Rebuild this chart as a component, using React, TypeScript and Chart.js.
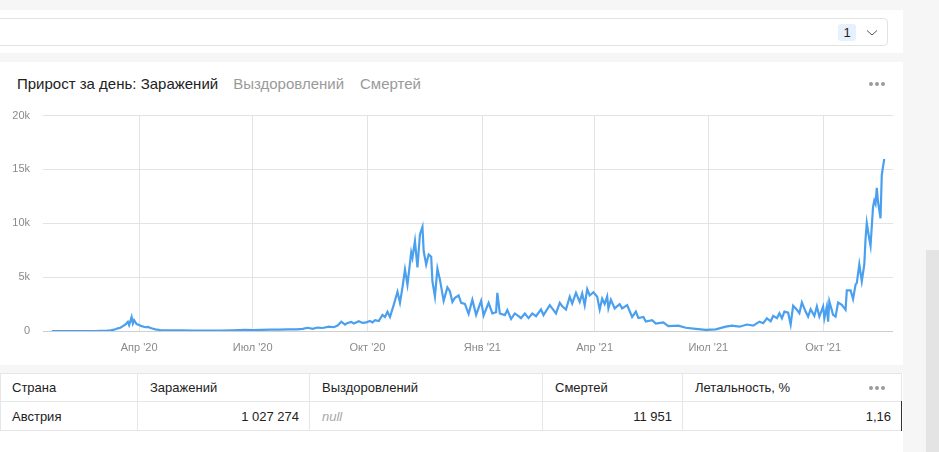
import React, { useEffect, useRef } from "react";
import { Chart, registerables } from "chart.js";

Chart.register(...registerables);

const dates: string[] = [
  "2020-01-22","2020-02-25","2020-03-01","2020-03-05","2020-03-09","2020-03-12","2020-03-15","2020-03-17","2020-03-19","2020-03-21",
  "2020-03-23","2020-03-24","2020-03-26","2020-03-27","2020-03-28","2020-03-30","2020-04-01","2020-04-03","2020-04-06","2020-04-08",
  "2020-04-11","2020-04-14","2020-04-18","2020-04-25","2020-05-05","2020-05-15","2020-05-25","2020-06-05","2020-06-15","2020-06-25",
  "2020-07-01","2020-07-08","2020-07-15","2020-07-22","2020-07-29","2020-08-05","2020-08-10","2020-08-14","2020-08-18","2020-08-22",
  "2020-08-26","2020-08-31","2020-09-04","2020-09-07","2020-09-10","2020-09-13","2020-09-15","2020-09-18","2020-09-20","2020-09-24",
  "2020-09-27","2020-09-30","2020-10-03","2020-10-05","2020-10-07","2020-10-10","2020-10-13","2020-10-15","2020-10-17","2020-10-19",
  "2020-10-22","2020-10-25","2020-10-27","2020-10-29","2020-10-31","2020-11-02","2020-11-05","2020-11-06","2020-11-08","2020-11-10",
  "2020-11-12","2020-11-14","2020-11-15","2020-11-17","2020-11-19","2020-11-21","2020-11-22","2020-11-24","2020-11-26","2020-11-28",
  "2020-12-01","2020-12-04","2020-12-06","2020-12-08","2020-12-10","2020-12-13","2020-12-15","2020-12-18","2020-12-21","2020-12-24",
  "2020-12-27","2020-12-31","2021-01-02","2021-01-06","2021-01-09","2021-01-12","2021-01-13","2021-01-15","2021-01-19","2021-01-21",
  "2021-01-24","2021-01-27","2021-01-30","2021-02-01","2021-02-04","2021-02-07","2021-02-10","2021-02-13","2021-02-17","2021-02-19",
  "2021-02-24","2021-03-01","2021-03-04","2021-03-06","2021-03-09","2021-03-12","2021-03-14","2021-03-17","2021-03-20","2021-03-22",
  "2021-03-24","2021-03-26","2021-03-28","2021-03-31","2021-04-03","2021-04-05","2021-04-07","2021-04-09","2021-04-11","2021-04-12",
  "2021-04-14","2021-04-17","2021-04-21","2021-04-23","2021-04-27","2021-05-01","2021-05-04","2021-05-06","2021-05-10","2021-05-12",
  "2021-05-17","2021-05-20","2021-05-26","2021-05-30","2021-06-07","2021-06-13","2021-06-21","2021-06-29","2021-07-07","2021-07-15",
  "2021-07-20","2021-07-26","2021-08-01","2021-08-06","2021-08-11","2021-08-14","2021-08-17","2021-08-20","2021-08-22","2021-08-25",
  "2021-08-27","2021-08-29","2021-08-31","2021-09-03","2021-09-05","2021-09-07","2021-09-10","2021-09-12","2021-09-14","2021-09-17",
  "2021-09-19","2021-09-21","2021-09-24","2021-09-26","2021-09-28","2021-10-01","2021-10-02","2021-10-04","2021-10-05","2021-10-06",
  "2021-10-09","2021-10-11","2021-10-13","2021-10-16","2021-10-19","2021-10-20","2021-10-23","2021-10-25","2021-10-27","2021-10-28",
  "2021-10-30","2021-10-31","2021-11-01","2021-11-03","2021-11-04","2021-11-05","2021-11-07","2021-11-08","2021-11-10","2021-11-11",
  "2021-11-12","2021-11-13","2021-11-14","2021-11-16","2021-11-17","2021-11-18","2021-11-19",
];

const cases: number[] = [
  0,2,5,15,60,120,250,300,450,600,
  850,550,1300,700,1000,650,550,450,350,380,
  250,150,90,70,50,40,40,40,60,100,
  90,110,120,130,150,150,200,300,200,320,
  280,400,350,500,860,600,750,850,700,900,
  750,800,930,800,1000,930,1500,1300,1780,1300,
  2430,3640,2620,4050,5700,4300,7300,6800,8350,5900,
  8970,9660,7400,6170,7100,6900,4600,3200,5800,4770,
  2800,4050,3700,2700,3080,3300,2620,2520,1590,2900,
  1500,2800,1450,2620,1630,1740,3540,1630,1480,1940,
  1110,1630,1390,1200,1630,1200,1630,1370,2000,1480,
  2400,1630,2620,2300,2000,3180,2560,3540,2700,3480,
  2400,3890,3300,3600,3180,2000,3000,2500,3200,2100,
  2900,2100,2500,2100,2400,1300,1800,1200,1300,880,
  1000,680,800,450,500,300,200,100,150,400,
  500,400,600,500,870,720,1180,900,1400,1190,
  1650,1190,1800,1700,600,2340,1970,1650,2650,1800,
  1340,2030,1400,2280,1340,2280,1190,2280,875,2750,
  1500,1340,2650,2440,1970,3780,3780,2970,4310,4470,
  6190,5400,4620,6190,8530,10030,8530,7900,11500,12100,
  11800,13300,12000,10470,14470,15250,15970,
];

const tickDates: string[] = ["2020-04-01","2020-07-01","2020-10-01","2021-01-01","2021-04-01","2021-07-01","2021-10-01"];
const tickLabels: string[] = ["Апр '20","Июл '20","Окт '20","Янв '21","Апр '21","Июл '21","Окт '21"];
const axisStart = "2020-01-15";
const axisEnd = "2021-11-26";

const tableHeaders: string[] = ["Страна", "Заражений", "Выздоровлений", "Смертей", "Летальность, %"];
const tableRow: string[] = ["Австрия", "1 027 274", "null", "11 951", "1,16"];

const dayNum = (s: string) => Date.parse(s + "T00:00:00Z") / 86400000;

const FONT = "'Liberation Sans', Arial, sans-serif";

function ChartBox() {
  const ref = useRef<HTMLCanvasElement | null>(null);
  useEffect(() => {
    if (!ref.current) return;
    const tickVals = tickDates.map(dayNum);
    const chart = new Chart(ref.current, {
      type: "line",
      data: {
        datasets: [
          {
            data: dates.map((d, i) => ({ x: dayNum(d), y: cases[i] })),
            borderColor: "#4aa0ee",
            borderWidth: 2.2,
            pointRadius: 0,
            tension: 0,
            fill: false,
          },
        ],
      },
      options: {
        animation: false,
        responsive: false,
        maintainAspectRatio: false,
        layout: { padding: { top: 10, right: 10, left: 0, bottom: 0 } },
        plugins: { legend: { display: false }, tooltip: { enabled: false } },
        scales: {
          x: {
            type: "linear",
            min: dayNum(axisStart),
            max: dayNum(axisEnd),
            afterBuildTicks: (scale: any) => {
              scale.ticks = tickVals.map((v) => ({ value: v }));
            },
            afterFit: (scale: any) => {
              scale.height = 29;
            },
            ticks: {
              autoSkip: false,
              maxRotation: 0,
              padding: 10,
              color: "#8a8a8a",
              font: { family: FONT, size: 11 },
              callback: (_v: any, i: number) => tickLabels[i],
            },
            grid: { color: "#e3e3e3", drawTicks: false, lineWidth: 1 },
            border: { display: false },
          },
          y: {
            min: 0,
            max: 20000,
            afterFit: (scale: any) => {
              scale.width = 43;
            },
            ticks: {
              stepSize: 5000,
              padding: 13,
              color: "#8a8a8a",
              font: { family: FONT, size: 11 },
              callback: (v: any) => (v === 0 ? "0" : v / 1000 + "k"),
            },
            grid: {
              drawTicks: false,
              color: (ctx: any) => (ctx.tick && ctx.tick.value === 0 ? "#cfcfcf" : "#e3e3e3"),
            },
            border: { display: false },
          },
        },
      },
    } as any);
    return () => chart.destroy();
  }, []);
  return (
    <canvas
      ref={ref}
      width={903}
      height={264}
      style={{ position: "absolute", left: 0, top: 96, width: 903, height: 264 }}
    />
  );
}

function Dots({ left, top }: { left: number; top: number }) {
  return (
    <div style={{ position: "absolute", left, top, display: "flex", gap: 2 }}>
      {[0, 1, 2].map((i) => (
        <div key={i} style={{ width: 4, height: 4, borderRadius: 2, background: "#9a9a9a" }} />
      ))}
    </div>
  );
}

export default function App() {
  const colX = [0, 138, 310, 543, 683, 901];
  const cell = (i: number, top: number, h: number, text: string, header: boolean) => {
    const right = i === 1 || i === 3 || i === 4;
    const isNull = !header && text === "null";
    return (
      <div
        key={(header ? "h" : "r") + i}
        style={{
          position: "absolute",
          left: colX[i],
          top,
          width: colX[i + 1] - colX[i],
          height: h,
          boxSizing: "border-box",
          borderRight: i < 4 ? "1px solid #e6e6e6" : "none",
          padding: "0 10px 0 12px",
          display: "flex",
          alignItems: "center",
          justifyContent: !header && right ? "flex-end" : "flex-start",
          fontFamily: FONT,
          fontSize: 13,
          color: isNull ? "#a8a8a8" : "#222",
          fontStyle: isNull ? "italic" : "normal",
          fontWeight: header ? 500 : 400,
        }}
      >
        {text}
      </div>
    );
  };
  return (
    <div
      style={{
        position: "fixed",
        left: 0,
        top: 0,
        width: 939,
        height: 452,
        background: "#f6f6f6",
        overflow: "hidden",
        fontFamily: FONT,
      }}
    >
      {/* top filter card */}
      <div style={{ position: "absolute", left: 0, top: 10, width: 903, height: 43, background: "#fff" }} />
      <div
        style={{
          position: "absolute",
          left: -6,
          top: 18,
          width: 894,
          height: 28,
          boxSizing: "border-box",
          border: "1px solid #e2e2e2",
          borderRadius: 4,
          background: "#fff",
        }}
      />
      <div
        style={{
          position: "absolute",
          left: 838,
          top: 24,
          width: 18,
          height: 17,
          background: "#e6f1fc",
          borderRadius: 3,
          fontSize: 13,
          color: "#222",
          display: "flex",
          alignItems: "center",
          justifyContent: "center",
        }}
      >
        1
      </div>
      <svg style={{ position: "absolute", left: 866, top: 29 }} width={12} height={8}>
        <polyline points="1,1.5 6,6 11,1.5" fill="none" stroke="#555" strokeWidth={1} />
      </svg>

      {/* chart card */}
      <div style={{ position: "absolute", left: 0, top: 62, width: 903, height: 303, background: "#fff" }} />
      <div
        style={{
          position: "absolute",
          left: 17,
          top: 74,
          fontSize: 15,
          lineHeight: "20px",
          whiteSpace: "nowrap",
          color: "#222",
        }}
      >
        Прирост за день: Заражений
        <span style={{ color: "#9a9a9a", marginLeft: 15 }}>Выздоровлений</span>
        <span style={{ color: "#9a9a9a", marginLeft: 16 }}>Смертей</span>
      </div>
      <Dots left={869} top={82} />
      <ChartBox />

      {/* table card */}
      <div style={{ position: "absolute", left: 0, top: 373, width: 903, height: 79, background: "#fff" }} />
      <div
        style={{
          position: "absolute",
          left: 0,
          top: 373,
          width: 902,
          height: 58,
          boxSizing: "border-box",
          borderTop: "1px solid #e6e6e6",
          borderLeft: "1px solid #e6e6e6",
          borderRight: "1px solid #e6e6e6",
        }}
      />
      <div style={{ position: "absolute", left: 0, top: 401, width: 902, height: 1, background: "#e6e6e6" }} />
      <div style={{ position: "absolute", left: 0, top: 430, width: 902, height: 1, background: "#e6e6e6" }} />
      {tableHeaders.map((t, i) => cell(i, 374, 27, t, true))}
      {tableRow.map((t, i) => cell(i, 402, 28, t, false))}
      <Dots left={869} top={386} />
      <div style={{ position: "absolute", left: 901, top: 401, width: 1, height: 30, background: "#333" }} />

      {/* scrollbar */}
      <div style={{ position: "absolute", left: 926, top: 250, width: 13, height: 202, background: "#e4e4e4" }} />
    </div>
  );
}
